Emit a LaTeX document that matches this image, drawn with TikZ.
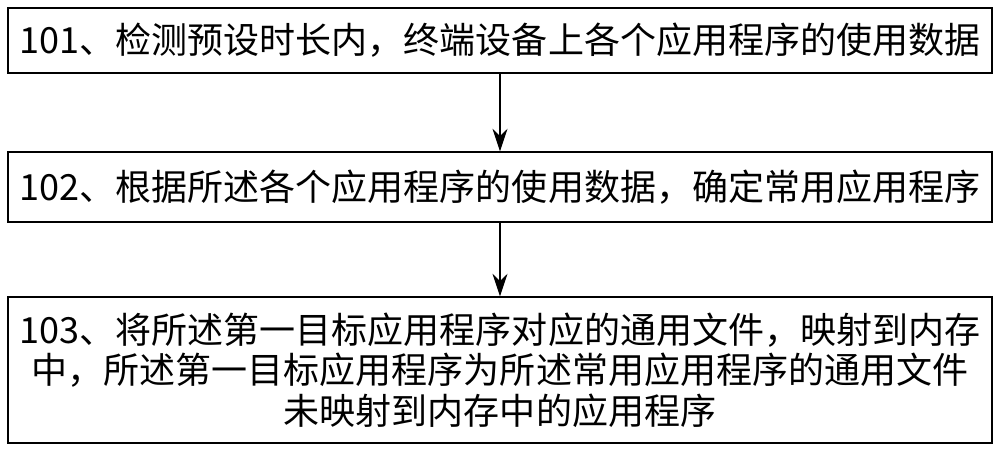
\documentclass[tikz,border=0pt]{standalone}
\usepackage{fontspec}
\setmainfont{Noto Sans CJK SC}
\usetikzlibrary{positioning,arrows.meta}
\begin{document}
\begin{tikzpicture}[
    stepbox/.style={rectangle, draw, line width=0.8pt, minimum width=19.68cm, align=center, font=\fontsize{20.5}{23}\selectfont, inner sep=0pt},
    flow/.style={-{Stealth[length=0.45cm, width=0.3cm]}, line width=0.8pt}]
\useasboundingbox (0,0) rectangle (20,-9);

% Steps
\node[stepbox, minimum height=1.3cm] (s101) at (10,-0.81) {101、检测预设时长内，终端设备上各个应用程序的使用数据};
\node[stepbox, minimum height=1.4cm] (s102) at (10,-3.74) {102、根据所述各个应用程序的使用数据，确定常用应用程序};
\node[stepbox, minimum height=2.92cm] (s103) at (10,-7.40) {103、将所述第一目标应用程序对应的通用文件，映射到内存\\中，所述第一目标应用程序为所述常用应用程序的通用文件\\未映射到内存中的应用程序};

% Arrows
\draw[flow] (s101) -- (s102);
\draw[flow] (s102) -- (s103);
\end{tikzpicture}
\end{document}
